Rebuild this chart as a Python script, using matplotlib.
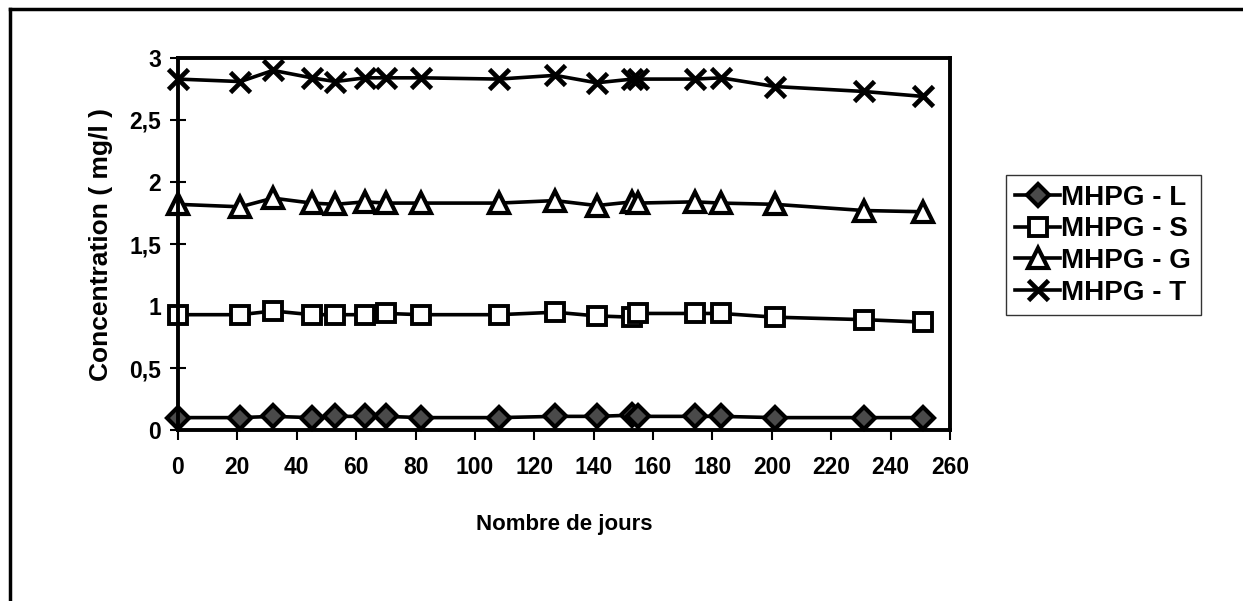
import matplotlib.pyplot as plt
from matplotlib.lines import Line2D

plt.rcParams['font.family'] = ['Liberation Sans', 'DejaVu Sans']

# jours de mesure
days = [0, 21, 32, 45, 53, 63, 70, 82, 108, 127, 141, 153, 155, 174, 183, 201, 231, 251]

# concentrations (mg/l)
mhpg_l = [0.10, 0.10, 0.11, 0.10, 0.11, 0.11, 0.11, 0.10, 0.10, 0.11,
          0.11, 0.12, 0.11, 0.11, 0.11, 0.10, 0.10, 0.10]
mhpg_s = [0.93, 0.93, 0.96, 0.93, 0.93, 0.93, 0.94, 0.93, 0.93, 0.95,
          0.92, 0.91, 0.94, 0.94, 0.94, 0.91, 0.89, 0.87]
mhpg_g = [1.82, 1.80, 1.87, 1.83, 1.82, 1.84, 1.83, 1.83, 1.83, 1.85,
          1.81, 1.84, 1.83, 1.84, 1.83, 1.82, 1.77, 1.76]
mhpg_t = [2.83, 2.81, 2.90, 2.84, 2.81, 2.84, 2.84, 2.84, 2.83, 2.86,
          2.80, 2.83, 2.83, 2.83, 2.84, 2.77, 2.73, 2.69]

labels = ['MHPG - L', 'MHPG - S', 'MHPG - G', 'MHPG - T']
y_ticks = [0, 0.5, 1, 1.5, 2, 2.5, 3]
y_tick_labels = ['0', '0,5', '1', '1,5', '2', '2,5', '3']
x_ticks = list(range(0, 261, 20))

fig = plt.figure(figsize=(12.43, 6.01), dpi=100)
ax = fig.add_axes([0.1432, 0.2845, 0.6211, 0.619])

lw = 2.6
ax.plot(days, mhpg_l, color='black', lw=lw, marker='D', ms=11,
        mfc='#4a4a4a', mec='black', mew=3, clip_on=False, label=labels[0])
ax.plot(days, mhpg_s, color='black', lw=lw, marker='s', ms=13,
        mfc='white', mec='black', mew=2.8, clip_on=False, label=labels[1])
ax.plot(days, mhpg_g, color='black', lw=lw, marker='^', ms=14,
        mfc='white', mec='black', mew=3, clip_on=False, label=labels[2])
ax.plot(days, mhpg_t, color='black', lw=lw, marker='x', ms=15,
        mec='black', mew=3.4, clip_on=False, label=labels[3])

ax.set_xlim(0, 260)
ax.set_ylim(0, 3)
ax.set_xticks(x_ticks)
ax.set_yticks(y_ticks)
ax.set_yticklabels(y_tick_labels)
ax.tick_params(axis='x', direction='out', length=7, width=1.5, labelsize=16.5, pad=12)
ax.tick_params(axis='y', direction='inout', length=12, width=1.5, labelsize=16.5, pad=6)
for lab in ax.get_xticklabels() + ax.get_yticklabels():
    lab.set_fontweight('bold')
for side in ax.spines.values():
    side.set_linewidth(2.8)

ax.set_xlabel('Nombre de jours', fontsize=16, fontweight='bold', labelpad=25)
ax.set_ylabel('Concentration ( mg/l )', fontsize=19, fontweight='bold', labelpad=12)

leg = fig.legend(loc='center left', bbox_to_anchor=(0.809, 0.592),
                 prop={'size': 20, 'weight': 'bold'},
                 frameon=True, fancybox=False, edgecolor='black', handlelength=1.6,
                 handletextpad=0.05, borderpad=0.35, labelspacing=0.2, borderaxespad=0)
leg.get_frame().set_linewidth(1.0)

# cadre extérieur (haut et gauche)
fig.add_artist(Line2D([0.008, 1.0], [0.985, 0.985], color='black', lw=2.5,
                      transform=fig.transFigure))
fig.add_artist(Line2D([0.008, 0.008], [0.0, 0.985], color='black', lw=2.5,
                      transform=fig.transFigure))

fig.savefig('out.png', dpi=100)
